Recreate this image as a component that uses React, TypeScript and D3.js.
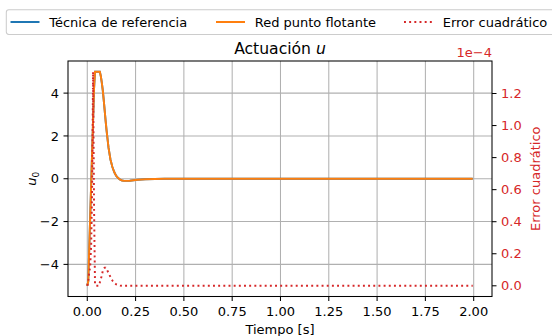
import React from 'react';
import * as d3 from 'd3';

// time samples [s]
const time = [0, 0.005, 0.01, 0.015, 0.02, 0.025, 0.03, 0.035, 0.04, 0.045, 0.05, 0.055, 0.06, 0.065,
  0.07, 0.075, 0.08, 0.085, 0.09, 0.095, 0.1, 0.11, 0.12, 0.13, 0.14, 0.15, 0.16, 0.17, 0.18, 0.19,
  0.2, 0.22, 0.24, 0.26, 0.28, 0.3, 0.35, 0.4, 0.5, 0.75, 1.0, 1.25, 1.5, 1.75, 1.995];

// reference technique actuation
const uRef = [-5, -4.8, -3.3, -1.8, -0.3, 1.2, 2.7, 4.2, 5, 5, 5, 5, 5, 5,
  4.8, 4.5, 4.15, 3.7, 3.2, 2.7, 2.25, 1.45, 0.9, 0.55, 0.3, 0.13, 0.03, -0.04, -0.08, -0.1,
  -0.1, -0.09, -0.07, -0.05, -0.035, -0.02, -0.008, -0.003, 0, 0, 0, 0, 0, 0, 0];

// floating point network actuation
const uNet = [-5, -4.8, -3.29, -1.79, -0.29, 1.21, 2.71, 4.21, 5, 5, 5, 5, 5, 5,
  4.8, 4.5, 4.15, 3.7, 3.2, 2.7, 2.25, 1.45, 0.9, 0.55, 0.3, 0.13, 0.03, -0.04, -0.08, -0.1,
  -0.1, -0.09, -0.07, -0.05, -0.035, -0.02, -0.008, -0.003, 0, 0, 0, 0, 0, 0, 0];

// squared error
const sqErr = [0, 0.03e-4, 0.08e-4, 0.12e-4, 0.25e-4, 0.6e-4, 1.336e-4, 0.5e-4, 0.01e-4, 0, 0, 0, 0, 0.02e-4,
  0.04e-4, 0.065e-4, 0.09e-4, 0.105e-4, 0.113e-4, 0.113e-4, 0.105e-4, 0.08e-4, 0.055e-4, 0.033e-4, 0.018e-4, 0.009e-4, 0.004e-4, 0.001e-4, 0, 0,
  0, 0, 0, 0, 0, 0, 0, 0, 0, 0, 0, 0, 0, 0, 0];

const xTicks = [0, 0.25, 0.5, 0.75, 1.0, 1.25, 1.5, 1.75, 2.0];
const yTicks = [-4, -2, 0, 2, 4];
const errTicks = [0, 0.2e-4, 0.4e-4, 0.6e-4, 0.8e-4, 1.0e-4, 1.2e-4];

const legendItems = ['Técnica de referencia', 'Red punto flotante', 'Error cuadrático'];

const W = 552;
const H = 336;
const plot = { left: 68, right: 492, top: 61, bottom: 296.5 };
const blue = '#1f77b4';
const orange = '#ff7f0e';
const red = '#d62728';
const font = 'DejaVu Sans, sans-serif';
const lw = 1.95;

function padded(ext: [number, number]): [number, number] {
  const p = (ext[1] - ext[0]) * 0.05;
  return [ext[0] - p, ext[1] + p];
}

const minus = (s: string) => s.replace('-', '\u2212');

export default function App() {
  const x = d3.scaleLinear().domain(padded(d3.extent(time) as [number, number])).range([plot.left, plot.right]);
  const y = d3.scaleLinear().domain(padded([d3.min([...uRef, ...uNet])!, d3.max([...uRef, ...uNet])!])).range([plot.bottom, plot.top]);
  const y2 = d3.scaleLinear().domain(padded(d3.extent(sqErr) as [number, number])).range([plot.bottom, plot.top]);

  const lineOf = (vals: number[], sc: d3.ScaleLinear<number, number>) =>
    d3.line<number>().x((_, i) => x(time[i])).y(d => sc(d))(vals) || '';

  const legendX = [10.5, 216, 404];
  const legendY = 22;

  return (
    <svg width={W} height={H} style={{ position: 'absolute', left: 0, top: 0, background: '#fff' }} fontFamily={font}>
      <defs>
        <clipPath id="plotclip">
          <rect x={plot.left} y={plot.top} width={plot.right - plot.left} height={plot.bottom - plot.top} />
        </clipPath>
      </defs>
      {/* grid */}
      <g stroke="#b0b0b0" strokeWidth={1.04}>
        {xTicks.map(t => <line key={'gx' + t} x1={x(t)} x2={x(t)} y1={plot.top} y2={plot.bottom} />)}
        {yTicks.map(t => <line key={'gy' + t} x1={plot.left} x2={plot.right} y1={y(t)} y2={y(t)} />)}
      </g>
      {/* lines */}
      <g clipPath="url(#plotclip)" fill="none">
        <path d={lineOf(uRef, y)} stroke={blue} strokeWidth={lw} />
        <path d={lineOf(uNet, y)} stroke={orange} strokeWidth={lw} />
        <path d={lineOf(sqErr, y2)} stroke={red} strokeWidth={lw} strokeDasharray="1.95 3.22" />
      </g>
      {/* spines */}
      <rect x={plot.left} y={plot.top} width={plot.right - plot.left} height={plot.bottom - plot.top}
        fill="none" stroke="#000" strokeWidth={1.04} />
      {/* x axis */}
      {xTicks.map(t => (
        <g key={'xt' + t}>
          <line x1={x(t)} x2={x(t)} y1={plot.bottom} y2={plot.bottom + 4.5} stroke="#000" strokeWidth={1.04} />
          <text x={x(t)} y={316} fontSize={13} textAnchor="middle">{d3.format('.2f')(t)}</text>
        </g>
      ))}
      <text x={(plot.left + plot.right) / 2} y={334} fontSize={13} textAnchor="middle">Tiempo [s]</text>
      {/* left y axis */}
      {yTicks.map(t => (
        <g key={'yt' + t}>
          <line x1={plot.left - 4.5} x2={plot.left} y1={y(t)} y2={y(t)} stroke="#000" strokeWidth={1.04} />
          <text x={plot.left - 9} y={y(t) + 4.7} fontSize={13} textAnchor="end">{minus(String(t))}</text>
        </g>
      ))}
      <text transform={`translate(36, ${(plot.top + plot.bottom) / 2}) rotate(-90)`} fontSize={13} textAnchor="middle">
        <tspan fontStyle="italic">u</tspan>
        <tspan fontSize={9} dy={2.5}>0</tspan>
      </text>
      {/* right y axis */}
      {errTicks.map(t => (
        <g key={'et' + t}>
          <line x1={plot.right} x2={plot.right + 4.5} y1={y2(t)} y2={y2(t)} stroke="#000" strokeWidth={1.04} />
          <text x={plot.right + 9} y={y2(t) + 4.7} fontSize={13} fill={red}>{d3.format('.1f')(t * 1e4)}</text>
        </g>
      ))}
      <text x={plot.right} y={57} fontSize={13} fill={red} textAnchor="end">1e{'\u2212'}4</text>
      <text transform={`translate(540, ${(plot.top + plot.bottom) / 2}) rotate(-90)`} fontSize={13} fill={red} textAnchor="middle">
        Error cuadrático
      </text>
      {/* title */}
      <text x={(plot.left + plot.right) / 2} y={54} fontSize={15.6} textAnchor="middle">
        Actuación <tspan fontStyle="italic">u</tspan>
      </text>
      {/* legend */}
      <rect x={6.3} y={9.8} width={560} height={24.6} rx={2.6} fill="#fff" fillOpacity={0.8} stroke="#cccccc" strokeWidth={1.04} />
      {legendItems.map((name, i) => (
        <g key={name}>
          <line x1={legendX[i]} x2={legendX[i] + 29} y1={legendY} y2={legendY}
            stroke={[blue, orange, red][i]} strokeWidth={lw} strokeDasharray={i === 2 ? '1.95 3.22' : undefined} />
          <text x={legendX[i] + 38.7} y={legendY + 4.7} fontSize={13}>{name}</text>
        </g>
      ))}
    </svg>
  );
}
